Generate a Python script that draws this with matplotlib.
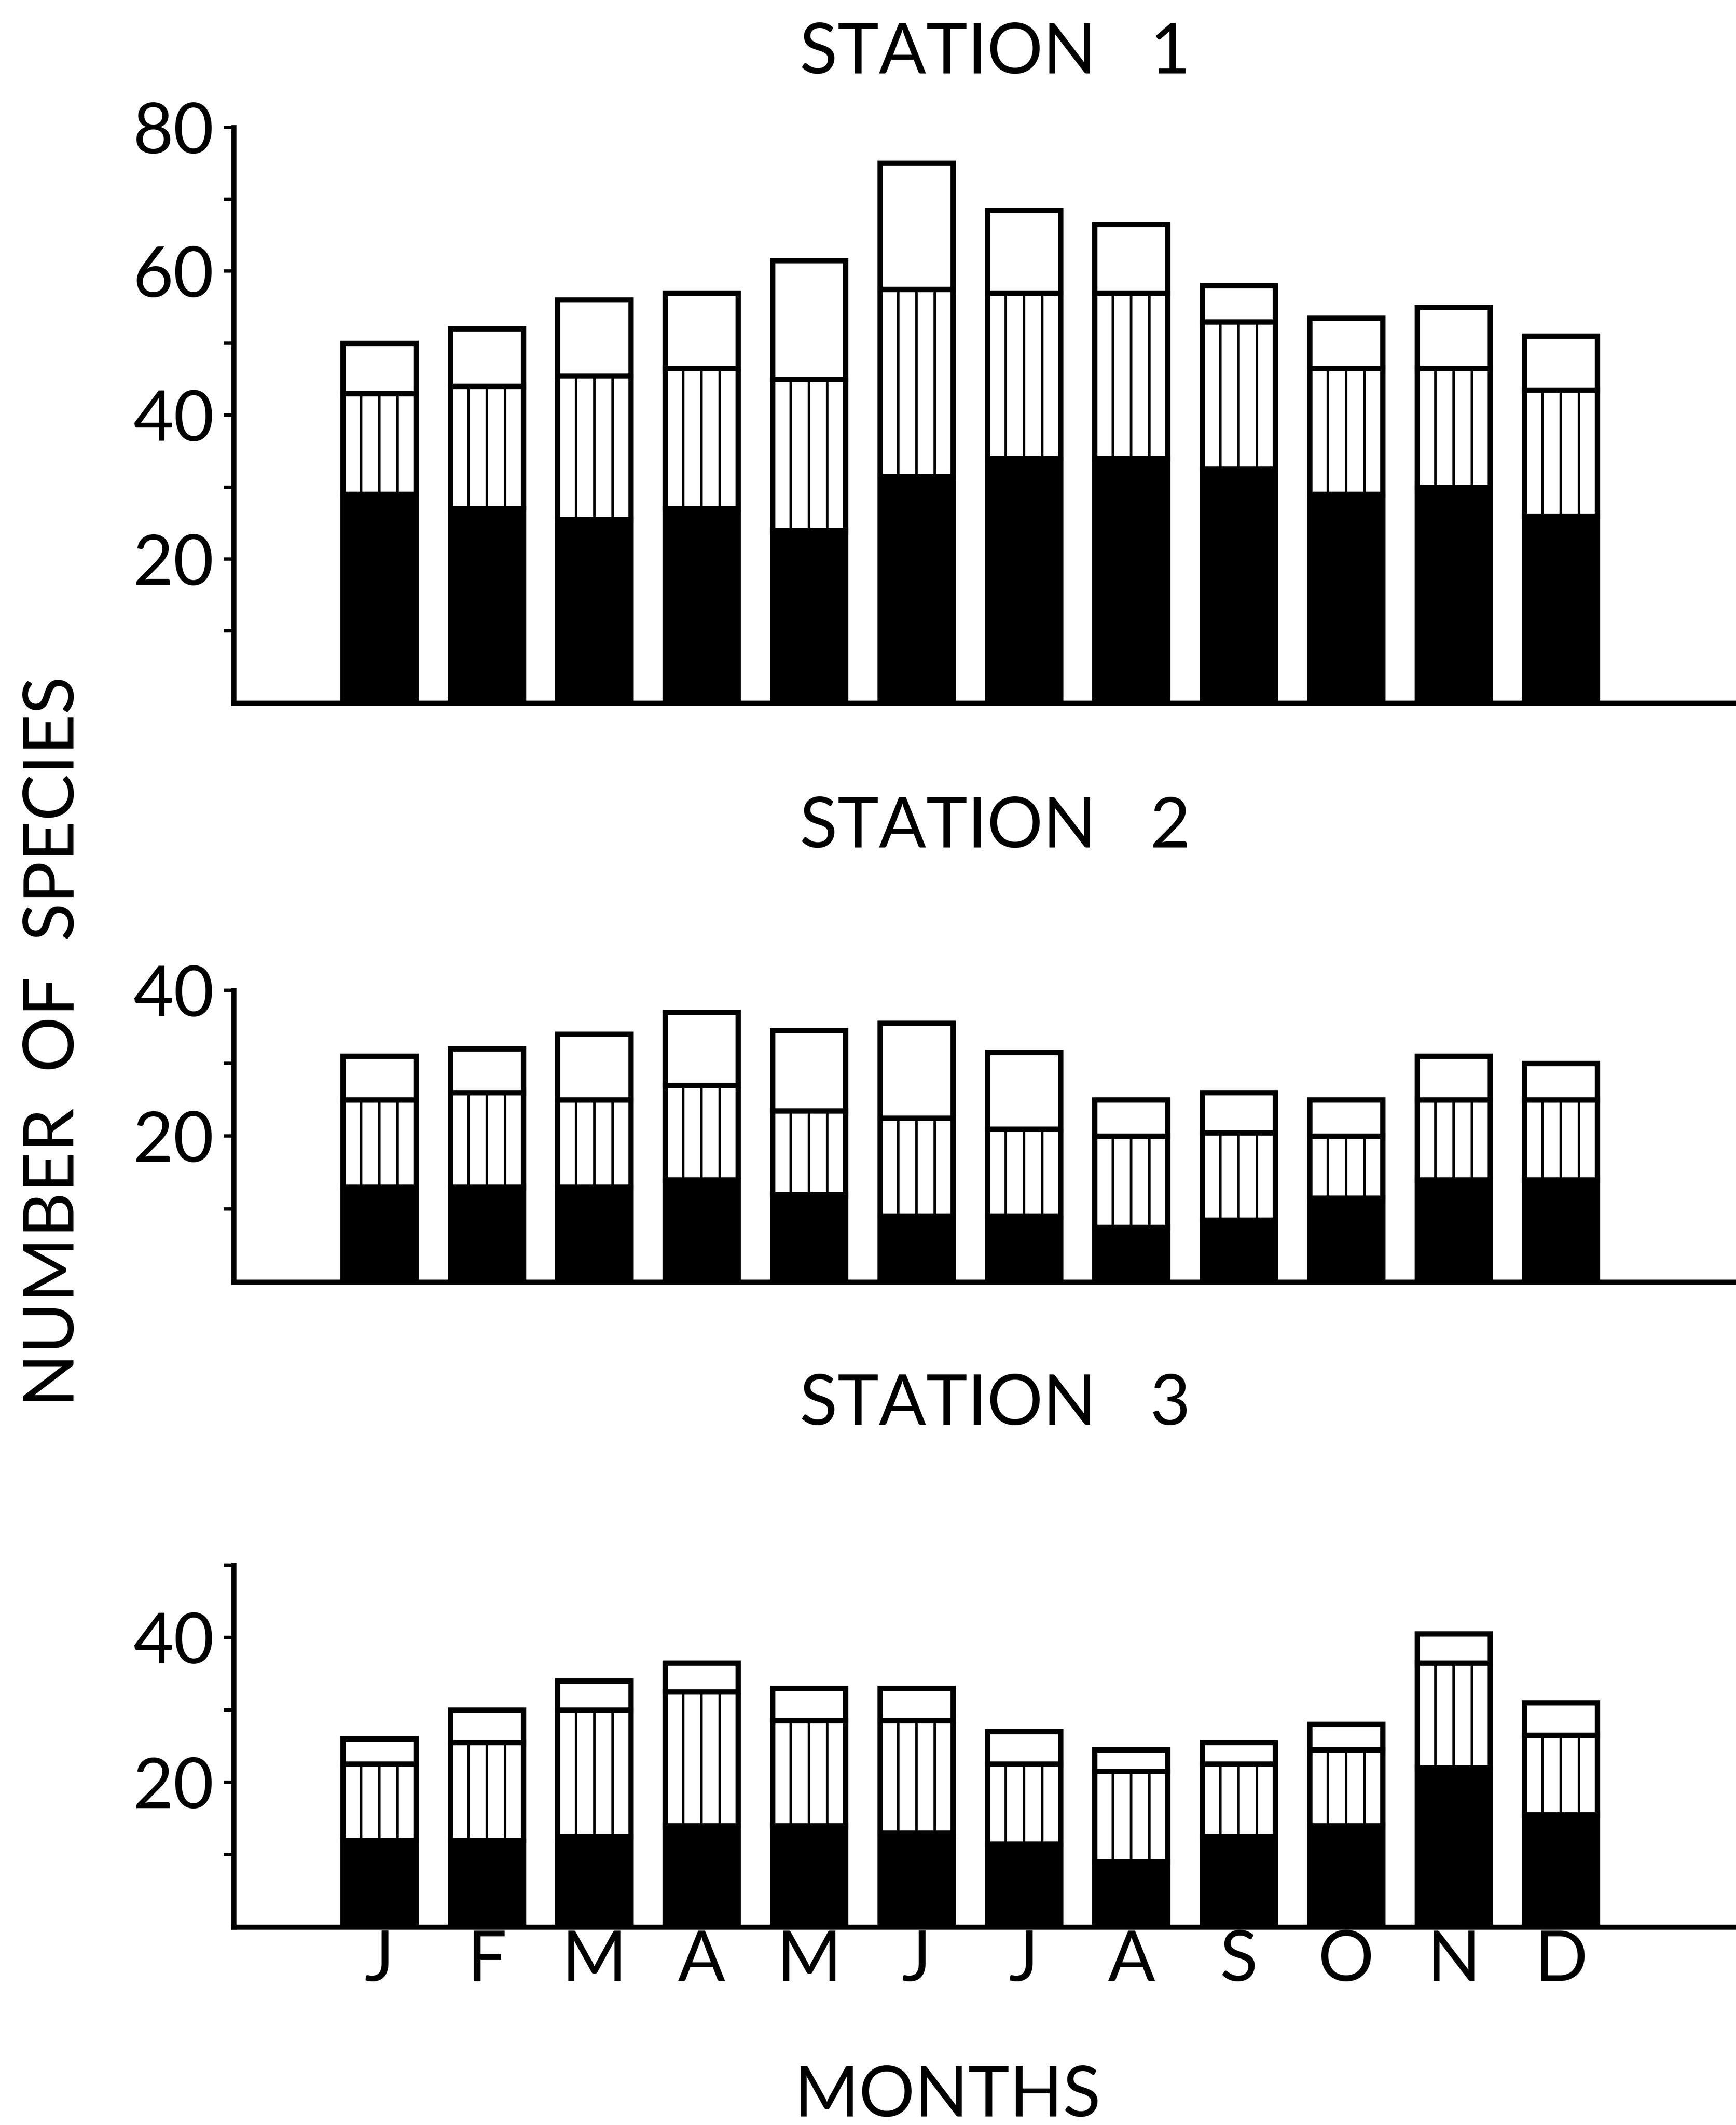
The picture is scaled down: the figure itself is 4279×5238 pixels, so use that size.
import numpy as np
import matplotlib
matplotlib.use("Agg")
import matplotlib.pyplot as plt

plt.rcParams['font.family'] = ['Lato', 'DejaVu Sans']

MONTHS = ["J", "F", "M", "A", "M", "J", "J", "A", "S", "O", "N", "D"]

# species per month, split in three groups (solid / hatched / open)
S1_SOLID   = [29, 27, 25.5, 27, 24, 31.5, 34, 34, 32.5, 29, 30, 26]
S1_HATCHED = [14, 17, 20, 19.5, 21, 26, 23, 23, 20.5, 17.5, 16.5, 17.5]
S1_OPEN    = [7, 8, 10.5, 10.5, 16.5, 17.5, 11.5, 9.5, 5, 7, 8.5, 7.5]

S2_SOLID   = [13, 13, 13, 14, 12, 9, 9, 7.5, 8.5, 11.5, 14, 14]
S2_HATCHED = [12, 13, 12, 13, 11.5, 13.5, 12, 12.5, 12, 8.5, 11, 11]
S2_OPEN    = [6, 6, 9, 10, 11, 13, 10.5, 5, 5.5, 5, 6, 5]

S3_SOLID   = [12, 12, 12.5, 14, 14, 13, 11.5, 9, 12.5, 14, 22, 15.5]
S3_HATCHED = [10.5, 13.5, 17.5, 18.5, 14.5, 15.5, 11, 12.5, 10, 10.5, 14.5, 11]
S3_OPEN    = [3.5, 4.5, 4, 4, 4.5, 4.5, 4.5, 3, 3, 3.5, 4, 4.5]

FS = 124
W = 0.68
LW = 9.5
HLW = 4.5


def draw_station(ax, solid, hatched, open_, ymax, labels):
    x = np.arange(len(solid))
    solid = np.array(solid, float)
    hatched = np.array(hatched, float)
    open_ = np.array(open_, float)
    ax.bar(x, solid, width=W, color="black", edgecolor="black", lw=LW)
    ax.bar(x, hatched, bottom=solid, width=W, facecolor="white",
           edgecolor="black", lw=LW)
    for off in (-W / 4, 0, W / 4):
        ax.vlines(x + off, solid, solid + hatched, color="black", lw=HLW)
    ax.bar(x, open_, bottom=solid + hatched, width=W, facecolor="white",
           edgecolor="black", lw=LW)

    ax.set_xlim(-1.356, 12.63)
    ax.set_ylim(0, ymax)
    for s in ("top", "right"):
        ax.spines[s].set_visible(False)
    for s in ("left", "bottom"):
        ax.spines[s].set_linewidth(9)
        ax.spines[s].set_capstyle("projecting")

    ax.set_yticks(np.arange(20, ymax + 1, 20))
    ax.set_yticks(np.arange(10, ymax + 1, 20), minor=True)
    ax.tick_params(axis="y", which="both", direction="out", length=17,
                   width=6, pad=18, labelsize=FS)
    ax.set_xticks(x)
    if labels:
        ax.set_xticklabels(MONTHS)
        ax.tick_params(axis="x", length=0, pad=4, labelsize=FS)
    else:
        ax.set_xticklabels([])
        ax.tick_params(axis="x", length=0)


fig = plt.figure(figsize=(42.79, 52.38), dpi=100)
fig.patch.set_facecolor("white")

ax1 = fig.add_axes([0.1346, 0.6692, 0.8654, 0.2709])
ax2 = fig.add_axes([0.1346, 0.3967, 0.8654, 0.1373])
ax3 = fig.add_axes([0.1346, 0.0932, 0.8654, 0.1703])

draw_station(ax1, S1_SOLID, S1_HATCHED, S1_OPEN, 80, False)
draw_station(ax2, S2_SOLID, S2_HATCHED, S2_OPEN, 40, False)
draw_station(ax3, S3_SOLID, S3_HATCHED, S3_OPEN, 50, True)

for y, name in [(0.9654, "STATION   1"), (0.6012, "STATION   2"), (0.3295, "STATION   3")]:
    fig.text(0.5733, y, name, ha="center", va="baseline", fontsize=FS)

fig.text(0.0425, 0.5099, "NUMBER  OF  SPECIES", rotation=90, rotation_mode="anchor",
         ha="center", va="baseline", fontsize=FS)
fig.text(0.5457, 0.004, "MONTHS", ha="center", va="baseline", fontsize=FS)

fig.savefig("out.png", dpi=100, facecolor="white")
